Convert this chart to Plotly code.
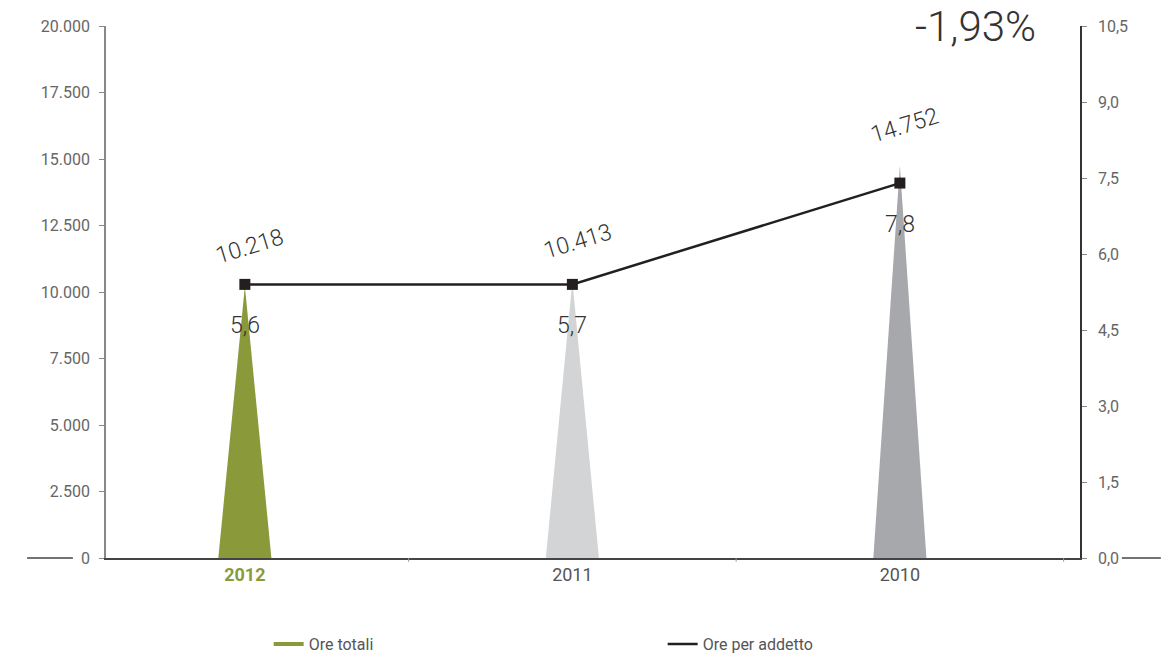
import plotly.graph_objects as go

# ---- data ----
years = ["2012", "2011", "2010"]
ore_totali = [10218, 10413, 14752]
ore_totali_labels = ["10.218", "10.413", "14.752"]
ore_addetto_pos = [5.4, 5.4, 7.4]          # marker positions (right axis)
ore_addetto_labels = ["5,6", "5,7", "7,8"]
spike_colors = ["#8a9a3b", "#d3d4d6", "#a7a8ab"]
variation_label = "-1,93%"
left_ticks = [0, 2500, 5000, 7500, 10000, 12500, 15000, 17500, 20000]
right_ticks = [0, 1.5, 3.0, 4.5, 6.0, 7.5, 9.0, 10.5]

FONT = "Roboto"
idx = list(range(len(years)))
half = 0.081

fig = go.Figure()

# spikes (triangles) for Ore totali
for i, (v, c) in enumerate(zip(ore_totali, spike_colors)):
    fig.add_trace(go.Scatter(
        x=[i - half, i, i + half, i - half], y=[0, v, 0, 0],
        fill="toself", fillcolor=c, mode="lines", line=dict(width=0, color=c),
        showlegend=False, hoverinfo="skip", yaxis="y"))

# line Ore per addetto (right axis)
fig.add_trace(go.Scatter(
    x=idx, y=ore_addetto_pos, mode="lines+markers", yaxis="y2",
    line=dict(color="#231f20", width=2.5),
    marker=dict(symbol="square", size=11, color="#231f20"),
    showlegend=False))

# legend dummies
fig.add_trace(go.Scatter(x=[None], y=[None], mode="lines", name="Ore totali",
                         line=dict(color="#8a9a3b", width=4)))
fig.add_trace(go.Scatter(x=[None], y=[None], mode="lines", name="Ore per addetto",
                         line=dict(color="#231f20", width=2.5)))

annotations = []
for i, (v, lab) in enumerate(zip(ore_totali, ore_totali_labels)):
    annotations.append(dict(x=i, y=v, xref="x", yref="y", text=lab, showarrow=False,
                            textangle=-17, yshift=40, xshift=5,
                            font=dict(family=FONT, size=23, color="#333333", weight=300)))
for i, (v, lab) in enumerate(zip(ore_addetto_pos, ore_addetto_labels)):
    annotations.append(dict(x=i, y=v, xref="x", yref="y2", text=lab, showarrow=False,
                            yshift=-41,
                            font=dict(family=FONT, size=23, color="#333333", weight=300)))
annotations.append(dict(x=1.0, y=1.0, xref="paper", yref="paper", text=variation_label,
                        showarrow=False, xanchor="right", yanchor="middle", xshift=-42, yshift=0,
                        font=dict(family=FONT, size=42, color="#333333", weight=300)))

shapes = []
# category boundary ticks
for i in idx:
    shapes.append(dict(type="line", xref="x", yref="paper", x0=i + 0.5, x1=i + 0.5,
                       y0=0, y1=-0.007, line=dict(color="#999999", width=1)))
# baseline extensions outside plot area
shapes.append(dict(type="line", xref="paper", yref="paper", x0=-0.081, x1=-0.034, y0=0, y1=0,
                   line=dict(color="#444444", width=1.5)))
shapes.append(dict(type="line", xref="paper", yref="paper", x0=1.043, x1=1.083, y0=0, y1=0,
                   line=dict(color="#444444", width=1.5)))

fig.update_layout(
    width=1176, height=657,
    margin=dict(l=106, r=96, t=26, b=99, autoexpand=False),
    paper_bgcolor="white", plot_bgcolor="white",
    separators=",.",
    font=dict(family=FONT, color="#666666"),
    xaxis=dict(range=[-0.424, 2.55], tickmode="array", tickvals=idx,
               ticktext=["<b><span style='color:#8a9a3b'>2012</span></b>", "2011", "2010"],
               tickfont=dict(size=18, color="#555555"),
               showgrid=False, zeroline=False, showline=True, linecolor="#444444", linewidth=1.5,
               ticks="", fixedrange=True, automargin=False),
    yaxis=dict(range=[0, 20000], tickvals=left_ticks, tickformat=",.0f",
               tickfont=dict(size=16, color="#666666"), automargin=False,
               showgrid=False, zeroline=False, showline=True, linecolor="#888888", linewidth=1.5,
               ticks="outside", ticklen=5, tickcolor="#888888", ticklabelstandoff=6),
    yaxis2=dict(range=[0, 10.5], tickvals=right_ticks, tickformat=".1f", overlaying="y",
                side="right", tickfont=dict(size=16, color="#666666"), automargin=False,
                showgrid=False, zeroline=False, showline=True, linecolor="#333333", linewidth=1.5,
                ticks="outside", ticklen=5, tickcolor="#888888", ticklabelstandoff=8),
    legend=dict(orientation="h", x=0.167, y=-0.162, xanchor="left", yanchor="middle",
                entrywidth=349, entrywidthmode="pixels",
                font=dict(family=FONT, size=16, color="#555555")),
    annotations=annotations,
    shapes=shapes,
)

fig.write_html("out.html")
